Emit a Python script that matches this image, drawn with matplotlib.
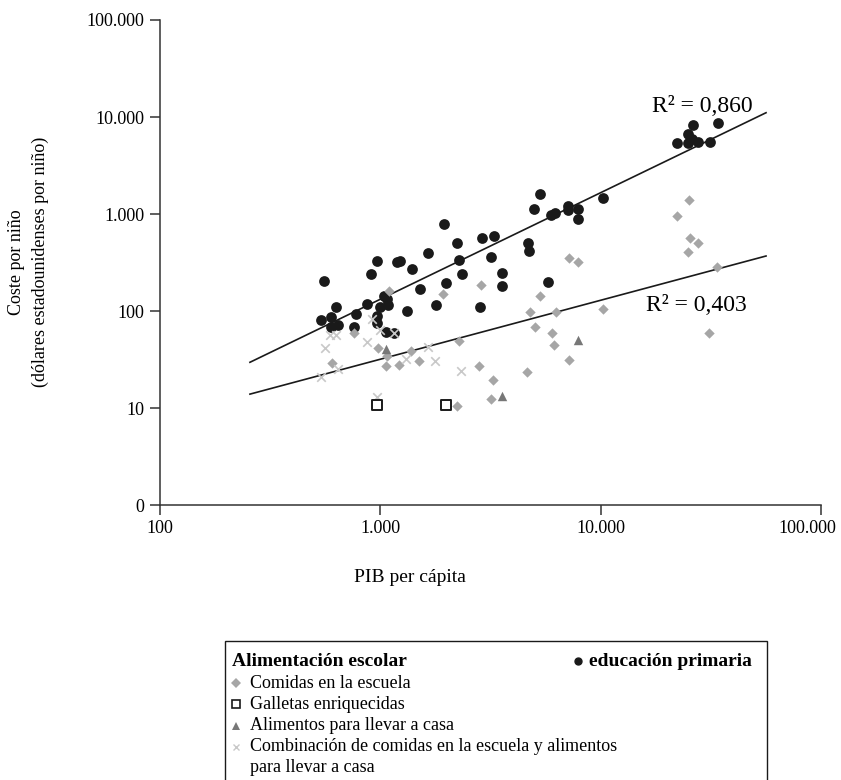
# cost per child vs gdp per capita, log-log scatter with two power trend lines
import matplotlib
matplotlib.use("Agg")
import matplotlib.pyplot as plt
import matplotlib.transforms as mtransforms
from matplotlib.lines import Line2D
from matplotlib.patches import Rectangle

plt.rcParams['font.family'] = ['Liberation Serif', 'DejaVu Serif']

# educacion primaria (black dots)
edu_gdp = [536, 557, 595, 595, 643, 630, 758, 772, 868, 908, 963, 963, 968, 1000,
           1035, 1072, 1079, 1059, 1158, 1186, 1224, 1316, 1386, 1507, 1646, 1782,
           1936, 1987, 2232, 2272, 2349, 2836, 2880, 3191, 3268, 3552, 3566, 4682,
           4748, 5789, 5000, 5325, 5954, 6228, 7135, 7135, 7862, 7920, 10265,
           22290, 24910, 25010, 26240, 26080, 27760, 31240, 33970]
edu_cost = [81, 202, 86, 69, 72, 111, 68, 93, 118, 241, 328, 88, 76, 111,
            143, 134, 115, 61, 60, 320, 330, 101, 273, 167, 395, 114,
            783, 194, 506, 332, 241, 110, 566, 360, 593, 245, 180, 502,
            414, 199, 1117, 1607, 977, 1017, 1209, 1087, 1117, 895, 1472,
            5355, 5355, 6680, 8335, 6000, 5562, 5562, 8733]

# comidas en la escuela (grey diamonds)
meal_gdp = [1093, 1918, 2865, 760, 602, 973, 1068, 1059, 1220, 1383, 1492, 2272,
            2815, 3235, 3181, 2225, 4614, 5037, 6036, 6118, 7210, 4772, 6274,
            5314, 10243, 7210, 7855, 25090, 22290, 25540, 27710, 24910, 33720, 30910]
meal_cost = [160, 151, 184, 59, 29, 42, 34, 27, 28, 39, 30.5, 49,
             27, 19.6, 12.5, 10.4, 23.7, 69, 60, 45, 31.6, 98, 98,
             143, 106, 349, 318, 1404, 953, 562, 508, 406, 286, 59]

# galletas enriquecidas (open squares)
bisc_gdp = [968, 1993]
bisc_cost = [10.7, 10.7]

# alimentos para llevar a casa (dark triangles)
take_gdp = [1059, 3566, 7880]
take_cost = [41, 13.3, 50]

# combinacion (light crosses)
comb_gdp = [538, 561, 594, 627, 645, 868, 912, 1000, 1158, 963, 1312, 1643, 1777, 2315]
comb_cost = [21, 42, 57, 57, 25, 48, 83, 64, 60, 13, 32, 43, 30.5, 24]

# trend line end points
trend_gdp = [256, 56300]
edu_trend = [29.6, 11070]
food_trend = [13.9, 369]

xticks = [100, 1000, 10000, 100000]
xlabels = ['100', '1.000', '10.000', '100.000']
yticks = [1, 10, 100, 1000, 10000, 100000]
ylabels = ['0', '10', '100', '1.000', '10.000', '100.000']

fig = plt.figure(figsize=(8.41, 7.8), dpi=100)
ax = fig.add_axes([0.19025, 0.35256, 0.78597, 0.6218])
ax.set_xscale('log'); ax.set_yscale('log')
ax.set_xlim(100, 100000); ax.set_ylim(1, 100000)

ax.plot(trend_gdp, edu_trend, color='#1a1a1a', lw=1.2, zorder=2)
ax.plot(trend_gdp, food_trend, color='#1a1a1a', lw=1.2, zorder=2)

ax.scatter(edu_gdp, edu_cost, marker='o', s=60, color='#1a1a1a', linewidths=0, zorder=3)
ax.scatter(meal_gdp, meal_cost, marker='D', s=28, color='#a6a6a6', linewidths=0, zorder=4)
ax.scatter(comb_gdp, comb_cost, marker='x', s=38, color='#c8c8c8', linewidths=1.2, zorder=4)
ax.scatter(take_gdp, take_cost, marker='^', s=46, color='#777777', linewidths=0, zorder=5)
ax.scatter(bisc_gdp, bisc_cost, marker='s', s=44, facecolor='white', edgecolor='#1a1a1a',
           linewidths=1.4, zorder=5)

ax.text(17115, 11270, 'R² = 0,860', fontsize=17, va='baseline', ha='left')
ax.text(16070, 100.7, 'R² = 0,403', fontsize=17, va='baseline', ha='left')

ax.set_xticks(xticks); ax.set_xticklabels(xlabels)
ax.set_yticks(yticks); ax.set_yticklabels(ylabels)
ax.minorticks_off()
ax.tick_params(labelsize=13, length=7, width=1.1, pad=4, color='#333333')
for s in ['top', 'right']:
    ax.spines[s].set_visible(False)
for s in ['left', 'bottom']:
    ax.spines[s].set_linewidth(1.1); ax.spines[s].set_color('#333333')
# last x label nudged left so it stays inside the canvas
last = ax.get_xticklabels()[-1]
last.set_transform(last.get_transform() + mtransforms.ScaledTranslation(-10 / 72, 0, fig.dpi_scale_trans))

fig.text(28.5 / 841, 1 - 262 / 780, 'Coste por niño\n(dólares estadounidenses por niño)',
         rotation=90, ha='center', va='center', fontsize=13, linespacing=1.5)
fig.text(410 / 841, 1 - 577 / 780, 'PIB per cápita', ha='center', va='center', fontsize=14)

# legend box built by hand (header row has two items side by side)
def fx(px): return px / 841
def fy(py): return 1 - py / 780

fig.add_artist(Rectangle((fx(225), fy(800)), fx(767) - fx(225), fy(641) - fy(800),
                         transform=fig.transFigure, fill=False, edgecolor='#1a1a1a', lw=1.0))
fig.text(fx(232), fy(661), 'Alimentación escolar', fontsize=14, weight='bold', va='center')
fig.add_artist(Line2D([fx(578)], [fy(661)], marker='o', markersize=5, color='#1a1a1a',
                      transform=fig.transFigure))
fig.text(fx(752), fy(661), 'educación primaria', fontsize=14, weight='bold', va='center', ha='right')

leg_items = [('D', '#a6a6a6', 'Comidas en la escuela'),
             ('s', 'white', 'Galletas enriquecidas'),
             ('^', '#777777', 'Alimentos para llevar a casa'),
             ('x', '#c8c8c8', 'Combinación de comidas en la escuela y alimentos')]
for i, (m, c, lab) in enumerate(leg_items):
    y = 683 + 21.3 * i
    if m == 's':
        mk = Line2D([fx(236)], [fy(y)], marker='s', markersize=5.5, markerfacecolor='white',
                    markeredgecolor='#1a1a1a', markeredgewidth=1.2, transform=fig.transFigure)
    elif m == 'x':
        mk = Line2D([fx(236)], [fy(y)], marker='x', markersize=5, color=c, markeredgewidth=1.0,
                    transform=fig.transFigure)
    else:
        mk = Line2D([fx(236)], [fy(y)], marker=m, markersize=5 if m == 'D' else 6, color=c,
                    markeredgewidth=0, transform=fig.transFigure)
    fig.add_artist(mk)
    fig.text(fx(250), fy(y), lab, fontsize=13, va='center')
fig.text(fx(250), fy(768), 'para llevar a casa', fontsize=13, va='center')

fig.savefig('out.png', dpi=100)
